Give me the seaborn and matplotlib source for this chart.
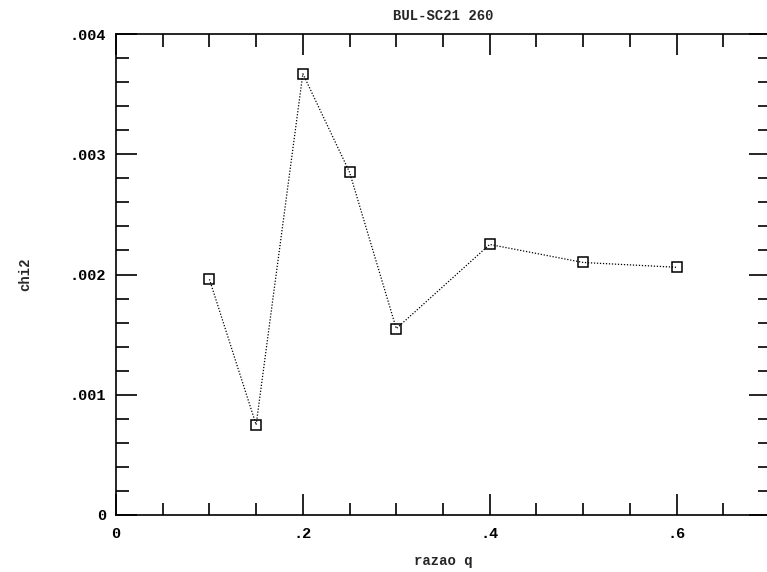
import matplotlib
matplotlib.use("Agg")
import matplotlib.pyplot as plt
import seaborn as sns
import pandas as pd
from matplotlib.ticker import MultipleLocator, FixedLocator, FixedFormatter

q_values = [0.10, 0.15, 0.20, 0.25, 0.30, 0.40, 0.50, 0.60]
chi2_values = [0.00196, 0.00075, 0.00367, 0.00285, 0.00155, 0.00225, 0.00210, 0.00206]
x_tick_vals = [0.0, 0.2, 0.4, 0.6]
x_tick_labels = ["0", ".2", ".4", ".6"]
y_tick_vals = [0.0, 0.001, 0.002, 0.003, 0.004]
y_tick_labels = ["0", ".001", ".002", ".003", ".004"]
title_text = "BUL-SC21 260"
x_label = "razao q"
y_label = "chi2"

sns.set_style("ticks")
plt.rcParams["font.family"] = ["Liberation Mono", "DejaVu Sans"]
plt.rcParams["font.weight"] = "bold"

df = pd.DataFrame({"q": q_values, "chi2": chi2_values})

fig = plt.figure(figsize=(7.67, 5.72), dpi=100)
ax = fig.add_axes([116 / 767, 1 - 515 / 572, (770 - 116) / 767, (515 - 34) / 572])

sns.lineplot(data=df, x="q", y="chi2", ax=ax, color="black", linewidth=0.9,
             linestyle=(0, (1, 1.4)), marker="s", markersize=6.5,
             markerfacecolor="none", markeredgecolor="black", markeredgewidth=1.1)

ax.set_xlim(0, 0.7)
ax.set_ylim(0, 0.004)
ax.xaxis.set_major_locator(FixedLocator(x_tick_vals))
ax.xaxis.set_major_formatter(FixedFormatter(x_tick_labels))
ax.yaxis.set_major_locator(FixedLocator(y_tick_vals))
ax.yaxis.set_major_formatter(FixedFormatter(y_tick_labels))
ax.xaxis.set_minor_locator(MultipleLocator(0.05))
ax.yaxis.set_minor_locator(MultipleLocator(0.0002))

for s in ax.spines.values():
    s.set_visible(True)
    s.set_linewidth(1.2)
    s.set_color("black")

ax.tick_params(which="both", direction="in", top=True, right=True, colors="black", width=1.2)
ax.tick_params(which="major", length=15)
ax.tick_params(which="minor", length=9)
ax.tick_params(axis="x", which="major", pad=9, labelsize=11)
ax.tick_params(axis="y", which="major", pad=7, labelsize=11)
for lab in ax.get_xticklabels() + ax.get_yticklabels():
    lab.set_fontweight("bold")

ax.set_title(title_text, fontsize=10, fontweight="bold", pad=10)
ax.set_xlabel(x_label, fontsize=10, fontweight="bold", labelpad=9)
ax.set_ylabel(y_label, fontsize=10, fontweight="bold", labelpad=27)

fig.savefig("out.png", dpi=100, facecolor="white")
